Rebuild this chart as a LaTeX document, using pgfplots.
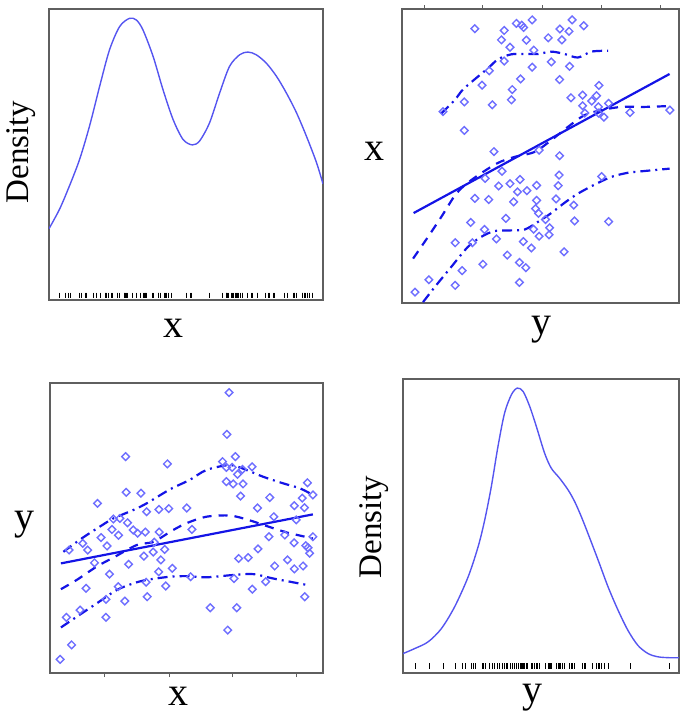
\documentclass[border=0pt]{standalone}
\usepackage{pgfplots}
\pgfplotsset{compat=1.18}
\usepackage{pgfplotstable}
\usepackage{fontspec}
\setmainfont{Liberation Serif}
\definecolor{densblue}{RGB}{85,85,240}
\definecolor{ptblue}{RGB}{110,110,255}
\definecolor{lnblue}{RGB}{20,20,230}
\definecolor{frame}{RGB}{95,95,95}

\pgfplotstableread{
x y
65.6 96.7
64.8 82.3
27.7 74.6
43.0 72.1
67.9 74.6
63.2 72.9
64.6 70.9
66.7 70.9
74.0 71.1
70.5 70.2
68.7 68.5
64.6 66.0
67.1 65.2
70.7 65.2
69.8 61.0
94.3 65.6
27.9 62.3
33.3 62.0
17.4 58.5
80.5 60.5
92.4 60.3
89.5 57.7
93.2 57.0
76.0 56.9
35.4 55.6
39.9 56.4
43.5 56.7
50.1 56.9
23.2 53.1
25.6 53.3
28.4 51.8
30.5 49.3
34.9 48.6
40.0 48.6
22.7 49.5
25.1 47.5
18.7 46.7
82.0 53.9
90.2 52.8
86.0 47.6
80.2 47.0
52.0 49.5
12.0 44.7
13.8 42.4
7.0 42.4
20.9 43.8
38.2 45.1
37.8 41.7
42.0 42.6
34.4 40.3
89.4 44.9
93.7 43.9
94.5 43.2
95.1 41.3
76.2 42.8
69.1 39.5
72.6 39.8
87.0 39.0
40.6 39.0
16.3 38.0
28.8 37.5
39.8 34.9
44.8 36.1
21.8 34.1
82.3 36.9
89.5 35.9
92.7 36.9
67.4 32.6
13.2 29.2
25.0 29.8
35.2 31.3
42.4 30.0
74.1 28.9
79.0 31.5
27.4 24.8
20.5 25.4
35.6 26.3
93.3 26.3
11.0 21.7
6.0 19.2
20.5 19.2
58.7 22.5
68.4 22.5
65.1 14.8
7.9 9.7
3.7 4.7
51.5 33.2
32.1 48.2
96.3 61.4
96.3 47.0
}\pts

\tikzset{denslabel/.style={font=\fontsize{33}{38}\selectfont}}
\pgfplotsset{
  panel/.style={
    scale only axis, xmin=0, xmax=100, ymin=0, ymax=100,
    axis line style={draw=frame, line width=2pt},
    xtick=\empty, ytick=\empty,
    clip=true,
    label style={font=\fontsize{40}{44}\selectfont},
  },
  rug/.style={only marks, mark=|, black, mark options={line width=1pt}},
  pts/.style={only marks, ptblue, mark=square, mark size=2.7pt, mark options={rotate=45, line width=1.4pt}},
}

\begin{document}
\begin{tikzpicture}
\path[use as bounding box] (0pt,0pt) rectangle (685pt,-716pt);

% Top-left: density of x
\begin{axis}[panel, at={(49pt,-300pt)}, anchor=south west, width=274pt, height=291pt,
  xlabel={x}, ylabel={Density},
  xlabel style={at={(axis description cs:0.456,-0.096)}, anchor=center},
  ylabel style={at={(axis description cs:-0.102,0.509)}, anchor=center, rotate=0, denslabel}]
\addplot[densblue, line width=1.4pt, smooth] coordinates {
(0,24.5)(3.9,31.3)(7.5,39.3)(11.2,48.4)(14.8,59.8)(18.5,73.5)(22.1,86.0)(25.8,94.0)
(29.4,96.8)(31.9,96.2)(34.3,92.8)(38.0,83.7)(41.6,72.3)(45.3,62.0)(48.9,55.2)(52.3,53.3)
(55.0,54.7)(58.6,60.9)(62.3,71.2)(65.9,80.3)(69.6,84.3)(72.6,85.2)(75.6,84.3)(79.3,81.4)
(83.0,76.9)(86.6,71.2)(90.3,64.4)(93.9,56.4)(97.6,47.3)(100,39.9)};
\addplot[rug, mark size=2.8pt] table[x=x, y expr=1.6]{\pts};
\end{axis}

% Top-right: x against y
\begin{axis}[panel, at={(402pt,-303pt)}, anchor=south west, width=277pt, height=294pt,
  xlabel={y}, ylabel={x},
  xtick={8.2,29.1,50.8,72.1,93.4}, xtick pos=right, xtick align=outside, xticklabels={},
  major tick length=4pt, tick style={draw=frame, line width=0.8pt},
  xlabel style={at={(axis description cs:0.505,-0.092)}, anchor=center},
  ylabel style={at={(axis description cs:-0.101,0.517)}, anchor=center, rotate=-90}]
\addplot[pts] table[x=y, y=x]{\pts};
\addplot[lnblue, line width=2.2pt] coordinates {(4.2,30.6)(96.6,77.9)};
\addplot[lnblue, line width=2.2pt, smooth, dash pattern=on 9pt off 7pt] coordinates {
(4.0,15.1)(9.4,22.5)(14.2,29.3)(19.6,37.2)(25.0,41.8)(34.1,47.4)(40.7,49.7)(47.9,51.4)
(53.9,55.4)(59.9,59.9)(65.9,63.9)(72.0,65.6)(79.2,66.7)(87.6,66.7)(96.6,67.0)};
\addplot[lnblue, line width=2.2pt, smooth, dash pattern=on 10pt off 5pt on 2pt off 5pt] coordinates {
(14.2,64.5)(19.0,69.0)(22.0,72.6)(27.4,77.0)(31.0,79.8)(34.7,82.9)(39.5,84.6)(44.9,84.7)
(49.1,84.7)(53.9,85.5)(58.7,84.7)(63.5,83.5)(68.4,85.5)(74.4,85.8)};
\addplot[lnblue, line width=2.2pt, smooth, dash pattern=on 10pt off 5pt on 2pt off 5pt] coordinates {
(7.6,0.3)(11.8,5.4)(17.8,12.3)(23.8,19.1)(28.6,22.5)(33.5,24.5)(39.5,24.7)(44.3,25.0)
(49.1,27.6)(53.9,30.6)(58.7,34.1)(63.5,37.2)(69.6,40.3)(75.6,42.9)(81.6,44.3)(87.6,44.9)(96.6,45.7)};
\end{axis}

% Bottom-left: y against x
\begin{axis}[panel, at={(50pt,-673pt)}, anchor=south west, width=273pt, height=290pt,
  xlabel={x}, ylabel={y},
  xtick={20.1,43.7,66.7,90.2}, xtick pos=left, xtick align=outside, xticklabels={},
  major tick length=4pt, tick style={draw=frame, line width=0.8pt},
  xlabel style={at={(axis description cs:0.469,-0.079)}, anchor=center},
  ylabel style={at={(axis description cs:-0.095,0.510)}, anchor=center, rotate=-90}]
\addplot[pts] table[x=x, y=y]{\pts};
\addplot[lnblue, line width=2.2pt] coordinates {(4.0,37.8)(96.3,54.7)};
\addplot[lnblue, line width=2.2pt, smooth, dash pattern=on 9pt off 7pt] coordinates {
(4.0,28.9)(9.8,32.1)(17.1,36.7)(23.8,40.1)(31.7,44.1)(38.0,45.3)(45.1,49.3)(50.4,51.8)
(57.3,53.9)(65.9,54.3)(72.6,52.8)(79.3,50.7)(86.6,48.5)(91.5,47.4)(96.3,46.4)};
\addplot[lnblue, line width=2.2pt, smooth, dash pattern=on 10pt off 5pt on 2pt off 5pt] coordinates {
(4.9,41.8)(11.6,46.4)(18.3,50.5)(23.2,53.3)(30.5,56.2)(35.4,58.5)(43.9,63.3)(51.2,66.6)
(57.3,70.0)(65.9,71.7)(72.0,70.0)(78.0,67.7)(85.4,65.4)(91.5,63.7)(96.3,61.4)};
\addplot[lnblue, line width=2.2pt, smooth, dash pattern=on 10pt off 5pt on 2pt off 5pt] coordinates {
(4.0,15.7)(9.8,19.4)(17.1,24.0)(24.4,28.6)(30.5,30.9)(35.4,32.1)(43.9,33.2)(50.0,33.4)
(57.3,33.0)(67.1,33.8)(74.4,34.1)(81.7,32.6)(87.8,31.5)(94.5,30.3)};
\end{axis}

% Bottom-right: density of y
\begin{axis}[panel, at={(403pt,-673pt)}, anchor=south west, width=276pt, height=294pt,
  xlabel={y}, ylabel={Density},
  xlabel style={at={(axis description cs:0.471,-0.085)}, anchor=center},
  ylabel style={at={(axis description cs:-0.105,0.497)}, anchor=center, rotate=0, denslabel}]
\addplot[densblue, line width=1.4pt, smooth] coordinates {
(0,6.6)(4.2,8.3)(9.1,10.6)(13.9,15.1)(18.7,22.5)(23.6,32.7)(27.2,42.9)(29.6,52.0)
(32.0,63.4)(34.4,77.0)(36.8,88.4)(39.3,94.7)(41.4,96.9)(43.5,95.8)(45.9,90.7)(48.3,83.9)
(51.3,74.8)(53.7,69.7)(56.7,66.3)(59.8,62.3)(62.2,58.3)(64.6,53.2)(67.0,47.5)(70.7,38.4)
(74.3,29.3)(77.9,21.4)(81.5,14.5)(85.1,9.4)(88.8,6.6)(92.4,5.5)(96.6,5.2)(100,5.2)};
\addplot[rug, mark size=2.9pt] table[x=y, y expr=2.3]{\pts};
\end{axis}
\end{tikzpicture}
\end{document}
